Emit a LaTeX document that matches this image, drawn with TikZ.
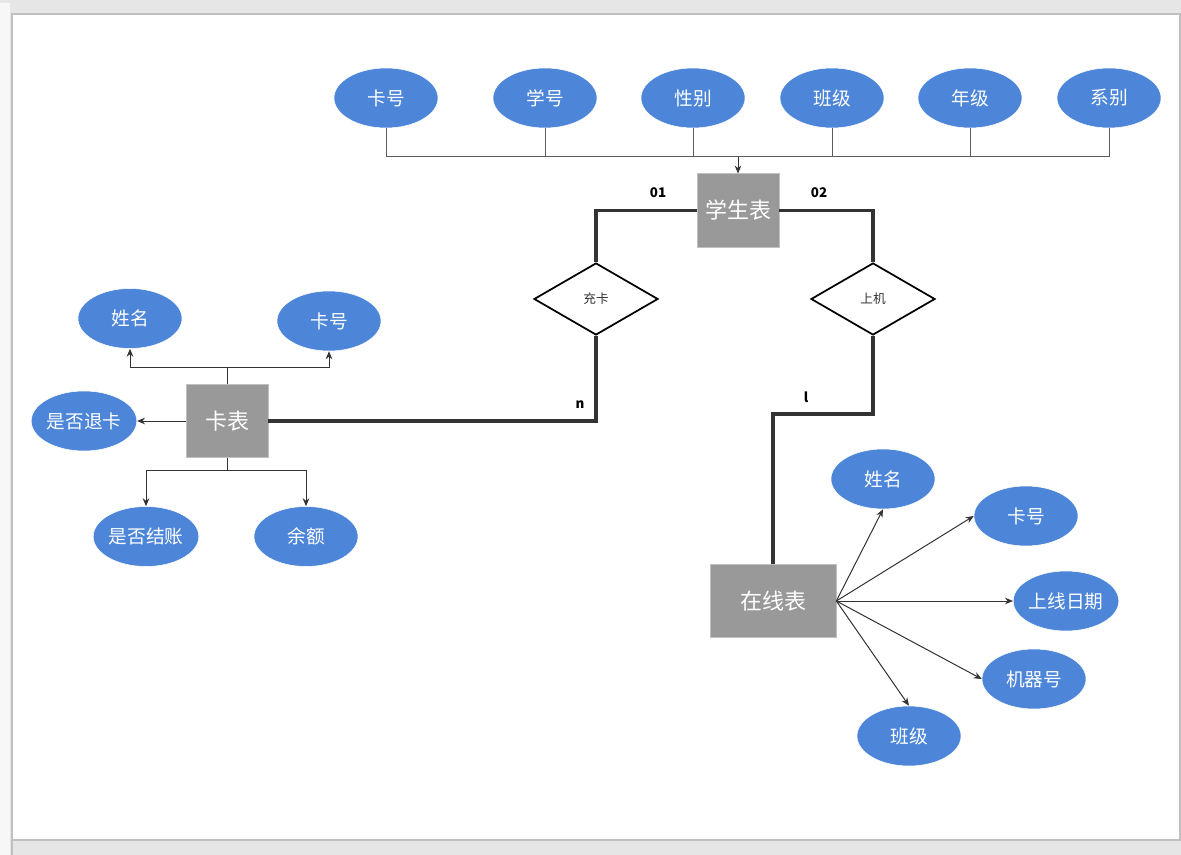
\documentclass[tikz,border=0pt]{standalone}
\usepackage{fontspec}
\setmainfont{Noto Sans CJK SC}
\usetikzlibrary{shapes.geometric,arrows.meta}
\definecolor{attrblue}{HTML}{4D86D9}
\definecolor{entgray}{HTML}{999999}
\definecolor{linedark}{HTML}{333333}
\definecolor{bggray}{HTML}{E6E6E6}
\definecolor{framegray}{HTML}{C0C0C0}
\tikzset{
  attr/.style={ellipse, fill=attrblue, draw=white, line width=0.4pt, text=white, inner sep=0pt,
    minimum width=78pt, minimum height=45pt, font=\fontsize{14}{16}\selectfont},
  entity/.style={rectangle, fill=entgray, draw=framegray, line width=0.5pt, text=white, inner sep=0pt,
    minimum width=61.5pt, minimum height=55pt, font=\fontsize{16.5}{20}\selectfont},
  rel/.style={diamond, draw=black, line width=1.3pt, fill=white, inner sep=0pt,
    minimum width=93pt, minimum height=54pt, aspect=1.72, text=linedark, font=\fontsize{9.5}{12}\selectfont},
  thin/.style={draw=linedark, line width=0.75pt},
  thinarrow/.style={thin, -{Stealth[length=6pt,width=5pt]}},
  thick/.style={draw=linedark, line width=2.5pt},
  card/.style={font=\bfseries\fontsize{10}{12}\selectfont, text=black, inner sep=0pt}
}
\begin{document}
\begin{tikzpicture}[x=0.75pt,y=-0.75pt]
\useasboundingbox (0,0) rectangle (1181,855);
\fill[bggray] (0,0) rectangle (1181,855);
\fill[white!97!black] (0,3) rectangle (10,855);
\fill[white] (12,14) rectangle (1180,840);
\draw[framegray, line width=1.1pt] (12,855) -- (12,14) -- (1180,14) -- (1180,840) -- (12,840);

% top attributes
\node[attr] (t1) at (386,98) {卡号};
\node[attr] (t2) at (545,98) {学号};
\node[attr] (t3) at (693,98) {性别};
\node[attr] (t4) at (832,98) {班级};
\node[attr] (t5) at (970,98) {年级};
\node[attr] (t6) at (1109,98) {系别};

% entities
\node[entity] (stu) at (738,210.5) {学生表};
\node[entity] (card) at (227,421) {卡表};
\node[entity, minimum width=94.5pt] (online) at (773,601) {在线表};

% relations
\node[rel] (chong) at (596,299) {充卡};
\node[rel] (shang) at (873,299) {上机};

% top bus
\coordinate (bus) at (738,157);
\foreach \t in {t1,t2,t3,t4,t5,t6} {\draw[thin, draw=linedark!80] (\t.south) |- (bus);}
\draw[thinarrow] (bus) -- (stu.north);

% thick relationships
\draw[thick] (stu.west) -| (chong.north);
\draw[thick] (stu.east) -| (shang.north);
\coordinate (nb) at (596,421);
\draw[thick] (chong.south) -- (nb) -- (card.east);
\coordinate (lb1) at (873,414);
\coordinate (lb2) at (773,414);
\draw[thick] (shang.south) -- (lb1) -- (lb2) -- (online.north);

\node[card] (c01) at (658,193) {01};
\node[card] (c02) at (819,193) {02};
\node[card] (cn) at (580,405) {n};
\node[card] (cl) at (806,397) {l};

% card table attributes
\node[attr] (k1) at (130,318.5) {姓名};
\node[attr] (k2) at (329,321) {卡号};
\node[attr] (k3) at (84,421) {是否退卡};
\node[attr] (k4) at (146,536.5) {是否结账};
\node[attr] (k5) at (306,536.5) {余额};
\coordinate (kup) at (227,368);
\coordinate (kdn) at (227,470);
\draw[thin] (card.north) -- (kup);
\draw[thinarrow] (kup) -| (k1.south);
\draw[thinarrow] (kup) -| (k2.south);
\draw[thinarrow] (card.west) -- (k3.east);
\draw[thin] (card.south) -- (kdn);
\draw[thinarrow] (kdn) -| (k4.north);
\draw[thinarrow] (kdn) -| (k5.north);

% online table attributes
\node[attr] (o1) at (883,479) {姓名};
\node[attr] (o2) at (1026,516) {卡号};
\node[attr] (o3) at (1066,601) {上线日期};
\node[attr] (o4) at (1034,679) {机器号};
\node[attr] (o5) at (909,736) {班级};
\draw[thinarrow] (online.east) -- (o1.south);
\draw[thinarrow] (online.east) -- (o2.west);
\draw[thinarrow] (online.east) -- (o3.west);
\draw[thinarrow] (online.east) -- (o4.west);
\draw[thinarrow] (online.east) -- (o5.north);
\end{tikzpicture}
\end{document}
